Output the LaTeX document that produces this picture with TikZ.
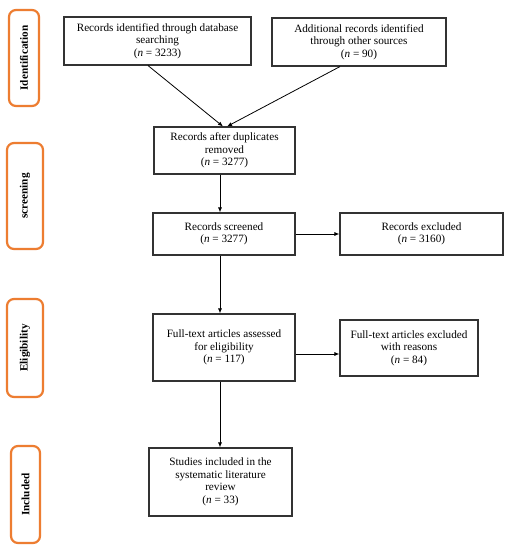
\documentclass[tikz,border=0pt]{standalone}
\usepackage{fontspec}
\setmainfont{Liberation Serif}
\usetikzlibrary{arrows.meta}
\definecolor{stageorange}{HTML}{ED7D31}
\definecolor{boxline}{HTML}{333333}
\tikzset{
  flowbox/.style={draw=boxline, line width=1.1pt, align=center, inner sep=2pt,
    font=\fontsize{11.2}{12.5}\selectfont},
  stagebox/.style={draw=stageorange, line width=2.2pt, rounded corners=7pt, rotate=90,
    inner sep=0pt, font=\fontsize{11.2}{12.5}\selectfont\bfseries},
  flowarrow/.style={draw=black, line width=0.8pt, -{Latex[length=5pt,width=4pt]}}
}
\begin{document}
\begin{tikzpicture}[x=1pt,y=-1pt]
\useasboundingbox (0,0) rectangle (511,550);
\fill[white] (0,0) rectangle (511,550);

% stage labels
\node[stagebox, minimum width=96pt, minimum height=30pt] (sid) at (24,58) {Identification};
\node[stagebox, minimum width=106pt, minimum height=36pt] (sscr) at (25,196) {screening};
\node[stagebox, minimum width=98pt, minimum height=36pt] (selig) at (25,348) {Eligibility};
\node[stagebox, minimum width=97pt, minimum height=29pt] (sincl) at (25.5,494.5) {Included};

% flow boxes
\node[flowbox, minimum width=187pt, minimum height=48pt] (db) at (157.5,41) {Records identified through database\\searching\\(\textit{n} = 3233)};
\node[flowbox, minimum width=174pt, minimum height=48pt] (other) at (359,42) {Additional records identified\\through other sources\\(\textit{n} = 90)};
\node[flowbox, minimum width=141pt, minimum height=47pt] (dup) at (224.5,150.5) {Records after duplicates\\removed\\(\textit{n} = 3277)};
\node[flowbox, minimum width=142pt, minimum height=42pt] (scr) at (224,234) {Records screened\\(\textit{n} = 3277)};
\node[flowbox, minimum width=163pt, minimum height=42pt] (exc) at (421.5,234) {Records excluded\\(\textit{n} = 3160)};
\node[flowbox, minimum width=142pt, minimum height=67pt] (full) at (224,347.5) {Full-text articles assessed\\for eligibility\\(\textit{n} = 117)};
\node[flowbox, minimum width=138pt, minimum height=56pt] (fexc) at (409,348) {Full-text articles excluded\\with reasons\\(\textit{n} = 84)};
\node[flowbox, minimum width=143pt, minimum height=68pt] (incl) at (220.5,482) {Studies included in the\\systematic literature\\review\\(\textit{n} = 33)};

% helper coordinates
\coordinate (vx) at (220,0);
\coordinate (dbout) at (148,0);
\coordinate (otherout) at (340,0);
\coordinate (inA) at (223,0);
\coordinate (inB) at (227,0);
\coordinate (hy) at (0,354);

% connectors
\draw[flowarrow] (db.south -| dbout) -- (dup.north -| inA);
\draw[flowarrow] (other.south -| otherout) -- (dup.north -| inB);
\draw[flowarrow] (dup.south -| vx) -- (scr.north -| vx);
\draw[flowarrow] (scr.east) -- (exc.west);
\draw[flowarrow] (scr.south -| vx) -- (full.north -| vx);
\draw[flowarrow] (full.east |- hy) -- (fexc.west |- hy);
\draw[flowarrow] (full.south -| vx) -- (incl.north -| vx);
\end{tikzpicture}
\end{document}
